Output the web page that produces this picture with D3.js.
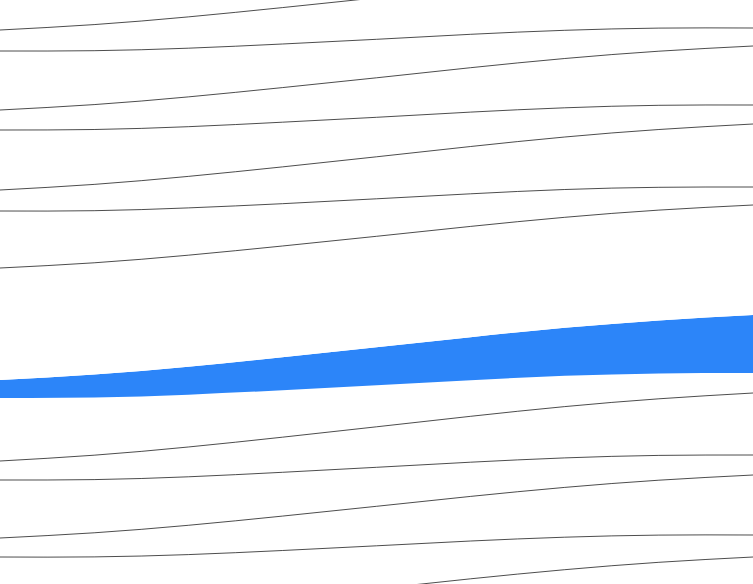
<!DOCTYPE html>
<html>
<head>
<meta charset="utf-8">
<script src="https://cdn.jsdelivr.net/npm/d3@7"></script>
<style>
html, body { margin: 0; padding: 0; background: #ffffff; overflow: hidden; }
svg { display: block; }
</style>
</head>
<body>
<svg id="chart" width="753" height="584"></svg>
<script>
// x steps (categories)
const steps = [0, 1, 2, 3, 4, 5, 6, 7, 8];

// layer values, stacked from the bottom upward
const base    = [79, 84.3, 91.9, 101.3, 111.2, 121.2, 130.3, 137.7, 143];
const layer1  = [64, 58.8, 53.5, 48.2, 43, 37.8, 32.5, 27.2, 22];
const layer2  = [19, 24.1, 29.3, 34.4, 39.5, 44.6, 49.8, 54.9, 60];
const layer3  = [58, 53.2, 48.5, 43.8, 39, 34.2, 29.5, 24.8, 20];
const layer4  = [19, 24.4, 29.8, 35.1, 40.5, 45.9, 51.3, 56.6, 62];
const layer5  = [63, 57.6, 52.3, 46.9, 41.5, 36.1, 30.8, 25.4, 20];
const layer6  = [18, 23, 28, 33, 38, 43, 48, 53, 58];   // highlighted
const layer7  = [112, 111.8, 111.5, 111.3, 111, 110.8, 110.5, 110.3, 110];
const layer8  = [57, 52.1, 47.3, 42.3, 37.5, 32.6, 27.8, 22.8, 18];
const layer9  = [21, 26.3, 31.5, 36.8, 42, 47.3, 52.5, 57.8, 63];
const layer10 = [60, 54.9, 49.7, 44.7, 39.5, 34.4, 29.2, 24.2, 19];
const layer11 = [20, 24.9, 29.8, 34.6, 39.5, 44.4, 49.3, 54.1, 59];
const layer12 = [59, 53.9, 48.7, 43.6, 38.5, 33.4, 28.2, 23.1, 18];
const layer13 = [21, 26.1, 31.3, 36.4, 41.5, 46.6, 51.8, 56.9, 62];
const layer14 = [60, 55, 50, 45, 40, 35, 30, 25, 20];

const keys = ["base", "layer1", "layer2", "layer3", "layer4", "layer5", "layer6",
              "layer7", "layer8", "layer9", "layer10", "layer11", "layer12", "layer13", "layer14"];
const valuesByKey = { base, layer1, layer2, layer3, layer4, layer5, layer6, layer7,
                      layer8, layer9, layer10, layer11, layer12, layer13, layer14 };
const highlightKey = "layer6";

const W = 753, H = 584;
const rows = steps.map((s, i) => {
  const r = { step: s };
  keys.forEach(k => r[k] = valuesByKey[k][i]);
  return r;
});

const stacked = d3.stack().keys(keys).order(d3.stackOrderNone).offset(d3.stackOffsetNone)(rows);

const x = d3.scaleLinear().domain(d3.extent(steps)).range([0, W]);
const y = d3.scaleLinear().domain([116, 700]).range([H, 0]);

const svg = d3.select("#chart");

const area = d3.area()
  .x(d => x(d.data.step))
  .y0(d => y(d[0]))
  .y1(d => y(d[1]))
  .curve(d3.curveNatural);

const topLine = d3.line()
  .x(d => x(d.data.step))
  .y(d => y(d[1]))
  .curve(d3.curveNatural);

const hiIndex = keys.indexOf(highlightKey);

svg.append("g").selectAll("path")
  .data(stacked)
  .join("path")
  .attr("d", area)
  .attr("fill", d => d.key === highlightKey ? "#2c85f9" : "#ffffff")
  .attr("stroke", "none");

svg.append("g").selectAll("path")
  .data(stacked.filter((s, i) => i !== hiIndex && i !== hiIndex - 1))
  .join("path")
  .attr("d", topLine)
  .attr("fill", "none")
  .attr("stroke", "#111")
  .attr("stroke-width", 0.75);
</script>
</body>
</html>
